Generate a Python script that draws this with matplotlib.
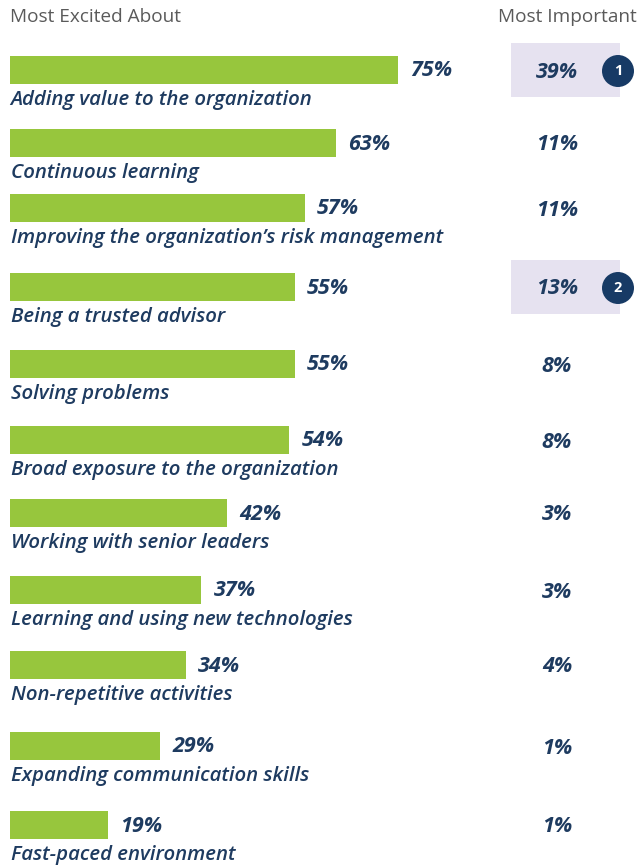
import matplotlib
matplotlib.use("Agg")
import matplotlib.pyplot as plt
from matplotlib.patches import Rectangle, Circle

categories = [
    "Adding value to the organization",
    "Continuous learning",
    "Improving the organization\u2019s risk management",
    "Being a trusted advisor",
    "Solving problems",
    "Broad exposure to the organization",
    "Working with senior leaders",
    "Learning and using new technologies",
    "Non-repetitive activities",
    "Expanding communication skills",
    "Fast-paced environment",
]
excited = [75, 63, 57, 55, 55, 54, 42, 37, 34, 29, 19]
important = [39, 11, 11, 13, 8, 8, 3, 3, 4, 1, 1]
highlights = {0: "1", 3: "2"}
header_left = "Most Excited About"
header_right = "Most Important"

# layout (pixel rows)
W, H = 639, 866
row_y = [70, 143, 208, 287, 364, 440, 513, 590, 665, 746, 825]
px_per_pct = 5.173
x0 = 10

GREEN = "#97C63D"
NAVY = "#1E3B60"
LAV = "#E6E2F0"
CIRC = "#173A65"
GRAY = "#5A5A5A"
FONT = ["Open Sans", "DejaVu Sans"]

fig = plt.figure(figsize=(W / 100, H / 100), dpi=100)
ax = fig.add_axes([0, 0, 1, 1])
ax.set_xlim(-x0 / px_per_pct, (W - x0) / px_per_pct)
ax.set_ylim(H, 0)
ax.axis("off")

ov = fig.add_axes([0, 0, 1, 1], facecolor="none")
ov.set_xlim(0, W)
ov.set_ylim(H, 0)
ov.axis("off")

ax.barh(row_y, excited, height=28, left=0, color=GREEN)
for y, v, lab in zip(row_y, excited, categories):
    ax.text(v + 12 / px_per_pct, y + 1, f"{v}%", ha="left", va="center",
            fontsize=15.5, fontweight="bold", fontstyle="italic", color=NAVY, family=FONT)
    ax.text(0.1, y + 30, lab, ha="left", va="center",
            fontsize=14.7, fontweight="semibold", fontstyle="italic", color=NAVY, family=FONT)

for i, (y, v) in enumerate(zip(row_y, important)):
    if i in highlights:
        ov.add_patch(Rectangle((511, y - 27), 109, 54, facecolor=LAV, edgecolor="none", zorder=1))
        ov.add_patch(Circle((618, y + 1), 16, facecolor=CIRC, edgecolor="none", zorder=2))
        ov.text(618, y + 1, highlights[i], ha="center", va="center", fontsize=10.5,
                fontweight="bold", color="white", family=FONT, zorder=3)
    ov.text(557, y + 2, f"{v}%", ha="center", va="center", fontsize=15.5,
            fontweight="bold", fontstyle="italic", color=NAVY, family=FONT, zorder=3)

ov.text(10, 17, header_left, ha="left", va="center", fontsize=13.7, color=GRAY, family=FONT)
ov.text(637, 17, header_right, ha="right", va="center", fontsize=13.7, color=GRAY, family=FONT)

fig.savefig("out.png", dpi=100)
